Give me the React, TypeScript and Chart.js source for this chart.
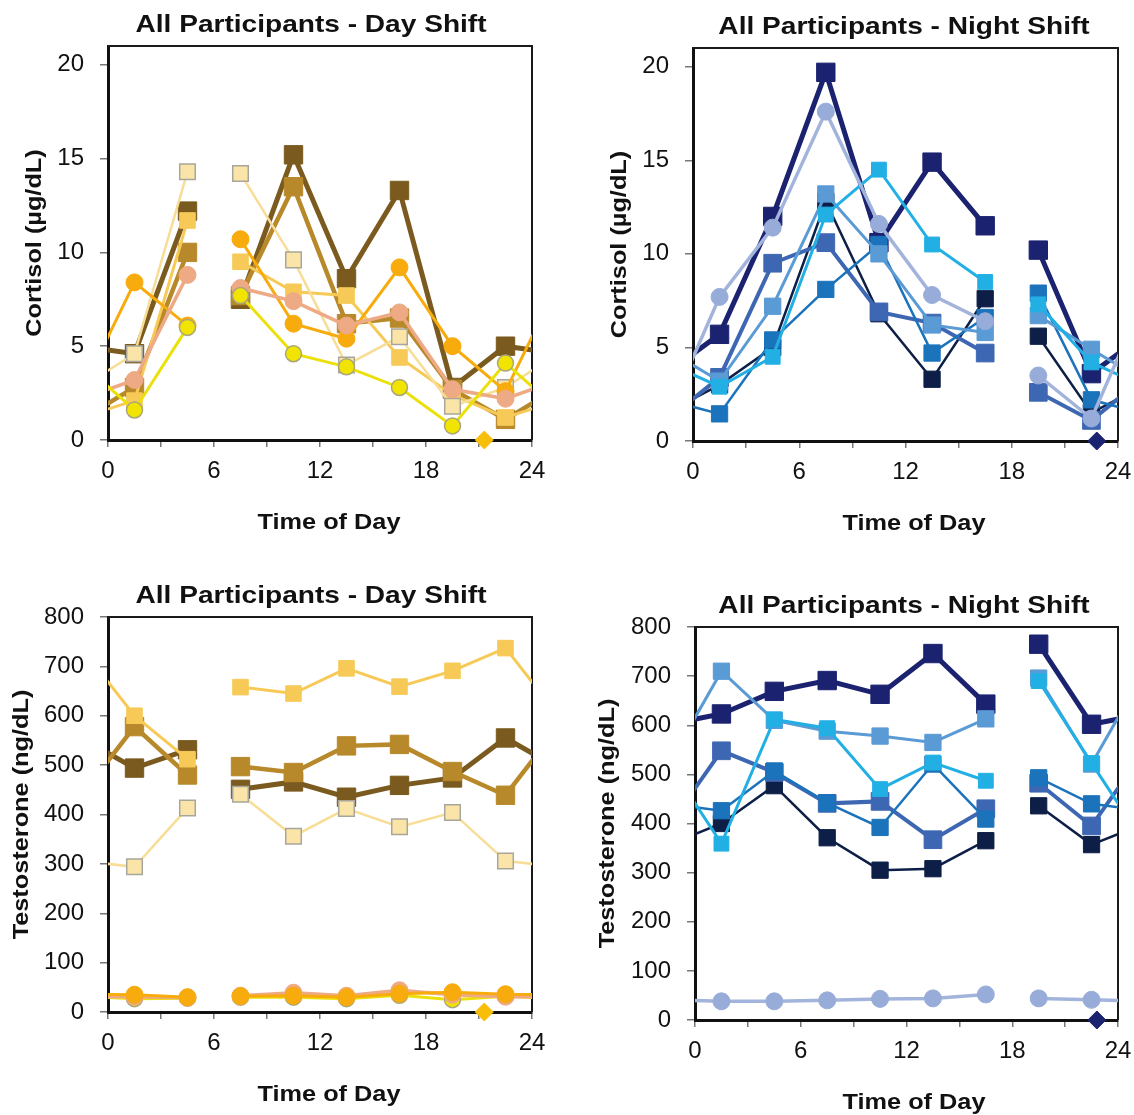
import React, { useEffect, useRef } from 'react';
import { Chart, registerables } from 'chart.js';

Chart.register(...registerables);

const PAGE_W = 1134;
const PAGE_H = 1115;
const FONT = "'Liberation Sans', Arial, Helvetica, sans-serif";

// ---------------- data ----------------
const sampleTimes = [1.5, 4.5, 7.5, 10.5, 13.5, 16.5, 19.5, 22.5];
const xTickMarks = [0, 3, 6, 9, 12, 15, 18, 21, 24];
const xTickLabels = [0, 6, 12, 18, 24];
const cortisolTicks = [0, 5, 10, 15, 20];
const testosteroneTicks = [0, 100, 200, 300, 400, 500, 600, 700, 800];
const dayMarkerTime = [21.3];
const nightMarkerTime = [22.8];

// Day shift cortisol (µg/dL)
const dayCortDarkBrown = [4.6, 12.2, 7.5, 15.2, 8.6, 13.3, 2.8, 5.0];
const dayCortMediumBrown = [2.8, 10.0, 7.7, 13.5, 6.2, 6.5, 2.7, 1.1];
const dayCortLightGold = [2.1, 11.7, 9.5, 7.9, 7.7, 4.4, 2.4, 1.2];
const dayCortPale = [4.6, 14.3, 14.2, 9.6, 4.0, 5.5, 1.8, 2.8];
const dayCortOrange = [8.4, 6.1, 10.7, 6.2, 5.4, 9.2, 5.0, 2.6];
const dayCortSalmon = [3.2, 8.8, 8.1, 7.4, 6.1, 6.8, 2.7, 2.2];
const dayCortYellow = [1.6, 6.0, 7.7, 4.6, 3.9, 2.8, 0.75, 4.1];

// Night shift cortisol (µg/dL)
const nightCortNavy = [5.7, 12.0, 19.7, 10.6, 14.9, 11.5, 10.2, 3.6];
const nightCortPeriwinkle = [7.7, 11.4, 17.6, 11.6, 7.8, 6.4, 3.5, 1.2];
const nightCortCyan = [2.9, 4.5, 12.1, 14.5, 10.5, 8.5, 7.3, 4.2];
const nightCortRoyal = [3.4, 9.5, 10.6, 6.9, 6.3, 4.7, 2.6, 1.1];
const nightCortNavyBlack = [3.0, 5.0, 12.8, 6.8, 3.3, 7.6, 5.6, 1.5];
const nightCortSteel = [1.45, 5.4, 8.1, 10.5, 4.7, 6.6, 7.9, 2.2];
const nightCortLightSteel = [3.2, 7.2, 13.2, 10.0, 6.2, 5.8, 6.7, 4.9];

// Day shift testosterone (ng/dL)
const dayTestLightGold = [600, 512, 658, 645, 696, 659, 691, 737];
const dayTestMediumBrown = [578, 480, 497, 485, 539, 542, 487, 439];
const dayTestDarkBrown = [494, 531, 451, 466, 435, 459, 474, 555];
const dayTestPale = [294, 413, 441, 356, 412, 375, 404, 306];
const dayTestOrange = [35, 30, 32, 33, 30, 37, 40, 36];
const dayTestSalmon = [31, 29, 33, 39, 33, 44, 35, 31];
const dayTestYellow = [27, 28, 30, 30, 27, 34, 25, 32];

// Night shift testosterone (ng/dL)
const nightTestNavy = [623, 669, 691, 663, 746, 643, 765, 602];
const nightTestLightSteel = [710, 610, 588, 578, 565, 613, 696, 521];
const nightTestCyan = [359, 612, 594, 470, 524, 487, 690, 523];
const nightTestRoyal = [548, 504, 441, 445, 367, 430, 482, 395];
const nightTestSteel = [426, 507, 442, 392, 521, 409, 493, 440];
const nightTestNavyBlack = [400, 477, 371, 305, 308, 365, 436, 357];
const nightTestPeriwinkle = [38, 38, 40, 43, 44, 52, 44, 41];

// ---------------- styles ----------------
type Style = { line: string; fill: string; edge: string; width: number; shape: string; r: number; edgeW: number };
const S = (line: string, fill: string, edge: string, width: number, shape: string, r: number, edgeW = 1): Style => ({ line, fill, edge, width, shape, r, edgeW });

const dayStyles: Record<string, Style> = {
  yellow: S('#ece00c', '#f0e400', '#aaa67c', 3, 'circle', 8, 1.5),
  salmon: S('#eea985', '#eea985', '#eea985', 3.5, 'circle', 8.5),
  orange: S('#f7ab0d', '#f7ab0d', '#f7ab0d', 3, 'circle', 8.5),
  pale: S('#f8dd97', '#fbe4a7', '#a8a69c', 2.5, 'rect', 11, 1.5),
  lightGold: S('#f7ca57', '#f7ca57', '#f7ca57', 3, 'rect', 11),
  mediumBrown: S('#b8892b', '#b8892b', '#b8892b', 4.5, 'rect', 13),
  darkBrown: S('#7a5a1e', '#7a5a1e', '#7a5a1e', 5, 'rect', 13),
};

const nightStyles: Record<string, Style> = {
  periwinkle: S('#a3b4dc', '#98acd9', '#98acd9', 3.5, 'circle', 8.5),
  cyan: S('#22b0e4', '#22b0e4', '#22b0e4', 3, 'rect', 10.5),
  lightSteel: S('#5a9ad5', '#5a9ad5', '#5a9ad5', 3, 'rect', 11.5),
  steel: S('#1b73bb', '#1b73bb', '#1b73bb', 2.5, 'rect', 11.5),
  royal: S('#3e67b3', '#3e67b3', '#3e67b3', 4, 'rect', 12.5),
  navyBlack: S('#0d1f47', '#0d1f47', '#0d1f47', 2.5, 'rect', 11.5),
  navy: S('#1b2370', '#1b2370', '#1b2370', 5, 'rect', 13),
};

// ---------------- helpers ----------------
function wrapSeries(values: number[], gapAfter: number) {
  const n = sampleTimes.length;
  const pts: { x: number; y: number | null }[] = [{ x: sampleTimes[n - 1] - 24, y: values[n - 1] }];
  sampleTimes.forEach((t, i) => {
    pts.push({ x: t, y: values[i] });
    if (i === gapAfter) pts.push({ x: (t + sampleTimes[i + 1]) / 2, y: null });
  });
  pts.push({ x: sampleTimes[0] + 24, y: values[0] });
  return pts;
}

function makeDataset(values: number[], st: Style, gapAfter: number) {
  return {
    data: wrapSeries(values, gapAfter),
    borderColor: st.line,
    borderWidth: st.width,
    backgroundColor: st.fill,
    pointStyle: st.shape,
    pointRadius: st.r,
    pointBackgroundColor: st.fill,
    pointBorderColor: st.edge,
    pointBorderWidth: st.edgeW,
    showLine: true,
    spanGaps: false,
    tension: 0,
  };
}

function markerDataset(times: number[], color: string) {
  return {
    data: times.map((t) => ({ x: t, y: 0 })),
    showLine: false,
    pointStyle: 'rectRot',
    pointRadius: 9,
    pointBackgroundColor: color,
    pointBorderColor: color,
    pointBorderWidth: 1,
    clip: false,
  };
}

type Panel = {
  title: string;
  yTitle: string;
  area: { left: number; right: number; top: number; bottom: number };
  yMax: number;
  yTicks: number[];
  titleX: number;
  xTitleX: number;
  yTitleX: number;
  datasets: any[];
};

const dayGap = 1;
const nightGap = 5;

const panels: Panel[] = [
  {
    title: 'All Participants - Day Shift',
    yTitle: 'Cortisol (µg/dL)',
    area: { left: 108, right: 532, top: 46, bottom: 440 },
    yMax: 21,
    yTicks: cortisolTicks,
    titleX: 311,
    xTitleX: 329,
    yTitleX: 35,
    datasets: [
      markerDataset(dayMarkerTime, '#f7bf0a'),
      makeDataset(dayCortYellow, dayStyles.yellow, dayGap),
      makeDataset(dayCortSalmon, dayStyles.salmon, dayGap),
      makeDataset(dayCortOrange, dayStyles.orange, dayGap),
      makeDataset(dayCortPale, dayStyles.pale, dayGap),
      makeDataset(dayCortLightGold, dayStyles.lightGold, dayGap),
      makeDataset(dayCortMediumBrown, dayStyles.mediumBrown, dayGap),
      makeDataset(dayCortDarkBrown, dayStyles.darkBrown, dayGap),
    ],
  },
  {
    title: 'All Participants - Night Shift',
    yTitle: 'Cortisol (µg/dL)',
    area: { left: 693, right: 1118, top: 48, bottom: 441 },
    yMax: 21,
    yTicks: cortisolTicks,
    titleX: 904,
    xTitleX: 914,
    yTitleX: 620,
    datasets: [
      markerDataset(nightMarkerTime, '#1b2370'),
      makeDataset(nightCortPeriwinkle, nightStyles.periwinkle, nightGap),
      makeDataset(nightCortCyan, nightStyles.cyan, nightGap),
      makeDataset(nightCortLightSteel, nightStyles.lightSteel, nightGap),
      makeDataset(nightCortSteel, nightStyles.steel, nightGap),
      makeDataset(nightCortRoyal, nightStyles.royal, nightGap),
      makeDataset(nightCortNavyBlack, nightStyles.navyBlack, nightGap),
      makeDataset(nightCortNavy, nightStyles.navy, nightGap),
    ],
  },
  {
    title: 'All Participants - Day Shift',
    yTitle: 'Testosterone (ng/dL)',
    area: { left: 108, right: 532, top: 617, bottom: 1012 },
    yMax: 800,
    yTicks: testosteroneTicks,
    titleX: 311,
    xTitleX: 329,
    yTitleX: 22,
    datasets: [
      markerDataset(dayMarkerTime, '#f7bf0a'),
      makeDataset(dayTestOrange, dayStyles.orange, dayGap),
      makeDataset(dayTestSalmon, dayStyles.salmon, dayGap),
      makeDataset(dayTestYellow, dayStyles.yellow, dayGap),
      makeDataset(dayTestPale, dayStyles.pale, dayGap),
      makeDataset(dayTestLightGold, dayStyles.lightGold, dayGap),
      makeDataset(dayTestMediumBrown, dayStyles.mediumBrown, dayGap),
      makeDataset(dayTestDarkBrown, dayStyles.darkBrown, dayGap),
    ],
  },
  {
    title: 'All Participants - Night Shift',
    yTitle: 'Testosterone (ng/dL)',
    area: { left: 695, right: 1118, top: 627, bottom: 1020 },
    yMax: 800,
    yTicks: testosteroneTicks,
    titleX: 904,
    xTitleX: 914,
    yTitleX: 608,
    datasets: [
      markerDataset(nightMarkerTime, '#1b2370'),
      makeDataset(nightTestPeriwinkle, nightStyles.periwinkle, nightGap),
      makeDataset(nightTestCyan, nightStyles.cyan, nightGap),
      makeDataset(nightTestLightSteel, nightStyles.lightSteel, nightGap),
      makeDataset(nightTestSteel, nightStyles.steel, nightGap),
      makeDataset(nightTestRoyal, nightStyles.royal, nightGap),
      makeDataset(nightTestNavyBlack, nightStyles.navyBlack, nightGap),
      makeDataset(nightTestNavy, nightStyles.navy, nightGap),
    ],
  },
];

function drawText(ctx: CanvasRenderingContext2D, text: string, x: number, y: number, font: string, sx: number, rotate: boolean) {
  ctx.save();
  ctx.translate(x, y);
  if (rotate) ctx.rotate(-Math.PI / 2);
  ctx.scale(sx, 1);
  ctx.font = font;
  ctx.textAlign = 'center';
  ctx.textBaseline = 'middle';
  ctx.fillStyle = '#111';
  ctx.fillText(text, 0, 0);
  ctx.restore();
}

function makeFramePlugin() {
  return {
    id: 'frame',
    beforeDatasetsDraw(chart: any) {
      const { ctx, chartArea: a } = chart;
      ctx.save();
      ctx.strokeStyle = '#1a1a1a';
      ctx.lineWidth = 2;
      ctx.beginPath();
      ctx.moveTo(a.left, a.top);
      ctx.lineTo(a.right, a.top);
      ctx.lineTo(a.right, a.bottom);
      ctx.stroke();
      ctx.restore();
    },
  };
}

function makeTextPlugin(p: Panel) {
  return {
    id: 'panelText',
    afterDraw(chart: any) {
      const { ctx, chartArea: a } = chart;
      const xs = chart.scales.x;
      const ys = chart.scales.y;
      ctx.save();
      ctx.fillStyle = '#111';
      ctx.font = `24px ${FONT}`;
      ctx.textBaseline = 'middle';
      ctx.textAlign = 'center';
      xTickLabels.forEach((v) => ctx.fillText(String(v), xs.getPixelForValue(v), a.bottom + 31));
      ctx.textAlign = 'right';
      p.yTicks.forEach((v) => ctx.fillText(String(v), a.left - 24, ys.getPixelForValue(v)));
      ctx.restore();
      drawText(ctx, p.title, p.titleX, a.top - 21, `bold 24px ${FONT}`, 1.17, false);
      drawText(ctx, 'Time of Day', p.xTitleX, a.bottom + 83, `bold 22px ${FONT}`, 1.15, false);
      drawText(ctx, p.yTitle, p.yTitleX, (a.top + a.bottom) / 2, `bold 22px ${FONT}`, 1.15, true);
    },
  };
}

const AXW = 10;
const AXH = 10;

function makeConfig(p: Panel): any {
  const a = p.area;
  return {
    type: 'line',
    data: { datasets: p.datasets },
    options: {
      animation: false,
      responsive: false,
      maintainAspectRatio: false,
      events: [],
      layout: {
        padding: {
          left: a.left - AXW,
          right: PAGE_W - a.right,
          top: a.top,
          bottom: PAGE_H - a.bottom - AXH,
        },
      },
      plugins: {
        legend: { display: false },
        tooltip: { enabled: false },
        title: { display: false },
      },
      scales: {
        x: {
          type: 'linear',
          min: 0,
          max: 24,
          afterBuildTicks: (s: any) => {
            s.ticks = xTickMarks.map((v) => ({ value: v }));
          },
          afterFit: (s: any) => {
            s.height = AXH;
          },
          ticks: { display: false, autoSkip: false },
          grid: { drawOnChartArea: false, drawTicks: true, tickLength: 7, color: '#777', tickColor: '#777', tickWidth: 1.5, lineWidth: 1.5 },
          border: { display: true, color: '#111', width: 3 },
        },
        y: {
          type: 'linear',
          min: 0,
          max: p.yMax,
          afterBuildTicks: (s: any) => {
            s.ticks = p.yTicks.map((v) => ({ value: v }));
          },
          afterFit: (s: any) => {
            s.width = AXW;
          },
          ticks: { display: false, autoSkip: false },
          grid: { drawOnChartArea: false, drawTicks: true, tickLength: 8, color: '#777', tickColor: '#777', tickWidth: 1.5, lineWidth: 1.5 },
          border: { display: true, color: '#111', width: 3 },
        },
      },
    },
    plugins: [makeFramePlugin(), makeTextPlugin(p)],
  };
}

function PanelCanvas({ panel }: { panel: Panel }) {
  const ref = useRef<HTMLCanvasElement | null>(null);
  useEffect(() => {
    if (!ref.current) return;
    const chart = new Chart(ref.current, makeConfig(panel));
    return () => chart.destroy();
  }, [panel]);
  return (
    <canvas
      ref={ref}
      width={PAGE_W}
      height={PAGE_H}
      style={{ position: 'absolute', left: 0, top: 0, width: PAGE_W, height: PAGE_H }}
    />
  );
}

export default function App() {
  return (
    <div style={{ position: 'absolute', left: 0, top: 0, width: PAGE_W, height: PAGE_H, background: '#fff' }}>
      {panels.map((p, i) => (
        <PanelCanvas key={i} panel={p} />
      ))}
    </div>
  );
}
